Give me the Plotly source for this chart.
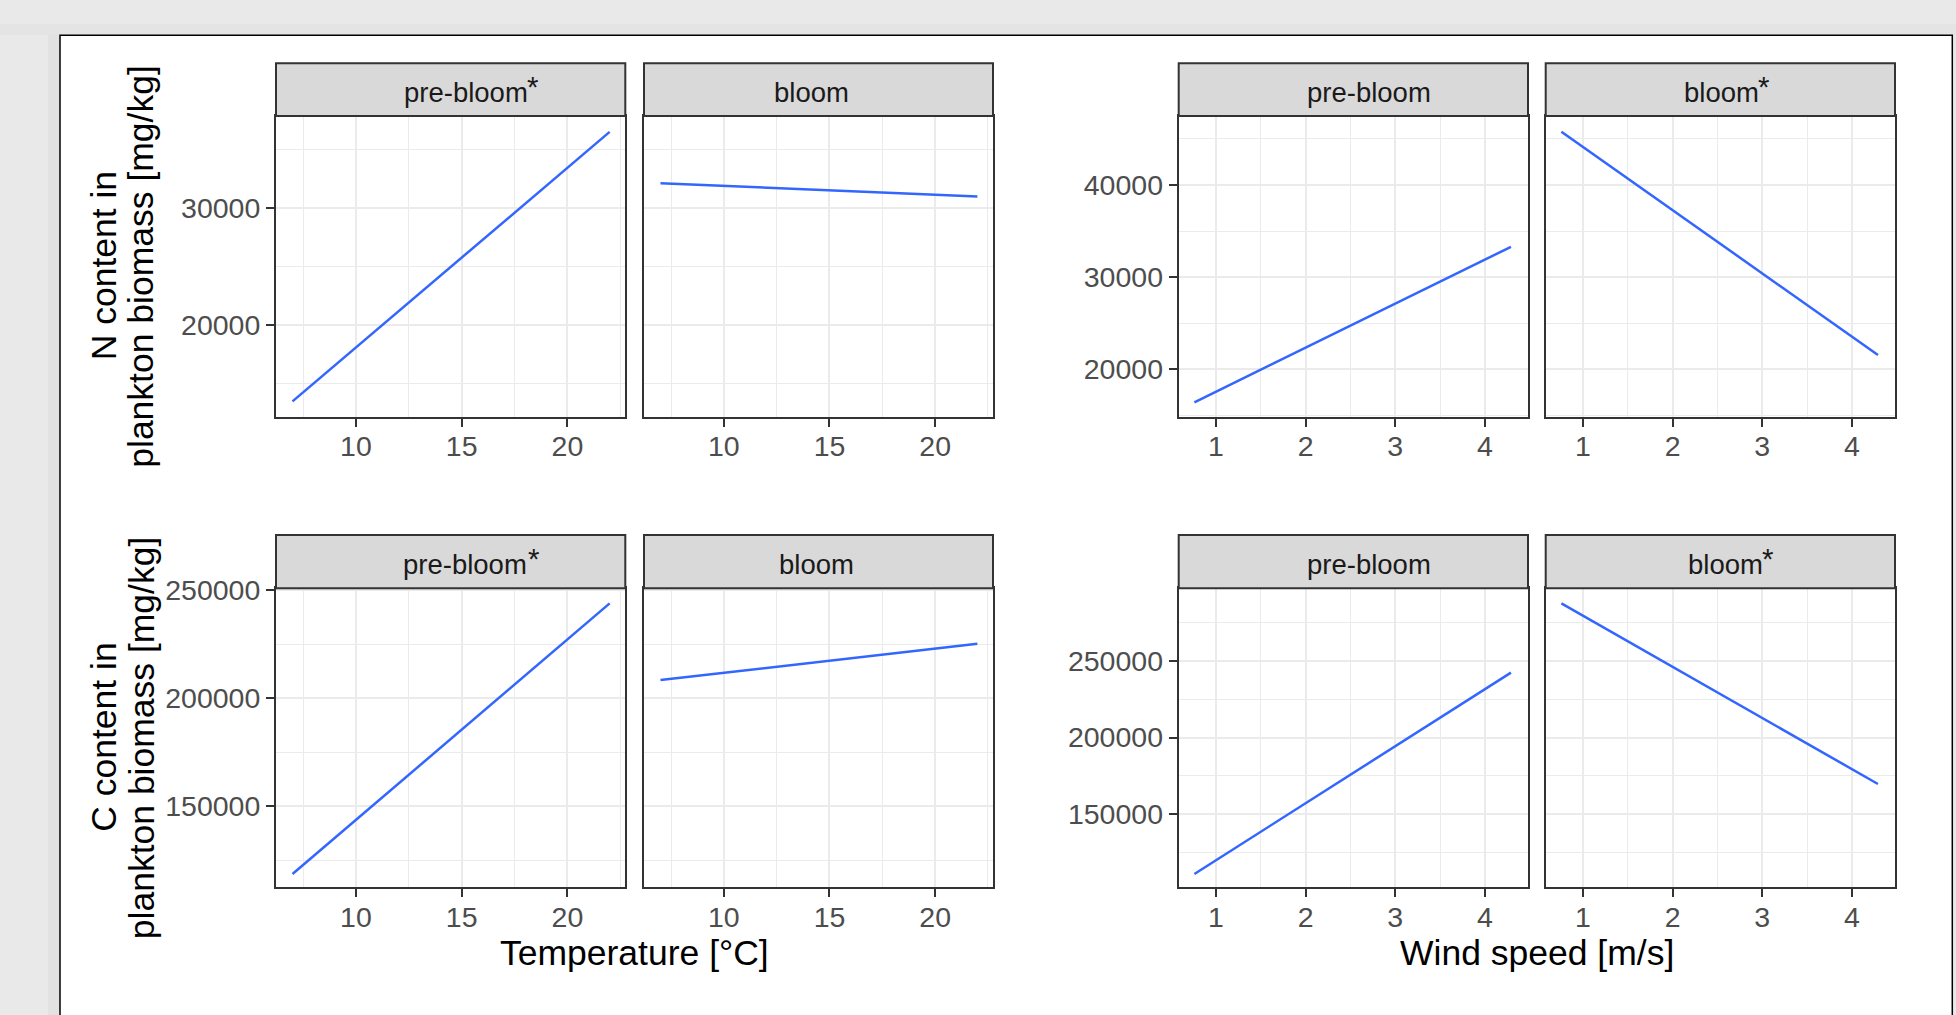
import plotly.graph_objects as go

W, H = 1956, 1015

# ---------------- data ----------------
temp_x = [7, 22]
wind_x = [0.76, 4.29]

n_temp_pre = [13450, 36500]
n_temp_bloom = [32110, 30970]
n_wind_pre = [16420, 33290]
n_wind_bloom = [45780, 21550]
c_temp_pre = [118500, 243800]
c_temp_bloom = [208300, 225100]
c_wind_pre = [110800, 242400]
c_wind_bloom = [287700, 169600]

strip_labels_top = ["pre-bloom", "bloom", "pre-bloom", "bloom"]
strip_labels_bottom = ["pre-bloom", "bloom", "pre-bloom", "bloom"]
strip_star_top = [True, False, False, True]
strip_star_bottom = [True, False, False, True]

temp_ticks = [10, 15, 20]
wind_ticks = [1, 2, 3, 4]
n_temp_ticks = [20000, 30000]
n_wind_ticks = [20000, 30000, 40000]
c_temp_ticks = [150000, 200000, 250000]
c_wind_ticks = [150000, 200000, 250000]

y_title_n = ["N content in", "plankton biomass [mg/kg]"]
y_title_c = ["C content in", "plankton biomass [mg/kg]"]
x_title_temp = "Temperature [°C]"
x_title_wind = "Wind speed [m/s]"

# ---------------- layout geometry (pixels) ----------------
def fx(px):
    return px / W

def fy(py):
    return 1 - py / H

cols_px = [(276, 625.3), (644, 993), (1178.7, 1528), (1545.7, 1895)]
rows_px = [(116, 416.7), (588.3, 887.3)]
strips_px = [(63.3, 116), (535, 588.3)]
strip_text_x = [[465.5, 811, 1369, 1721.6], [465.2, 816, 1369, 1725]]
strip_star_x = [[532.5, None, None, 1763.7], [533.8, None, None, 1767.5]]

FONT = "Liberation Sans, Arial, sans-serif"
LINE_COLOR = "#3366FF"
GRID = "#ebebeb"
DARK = "#333333"
TICK_SIZE = 28.5
STRIP_SIZE = 27.5
TITLE_SIZE = 35.5

x_ranges = [[6.22, 22.74], [6.22, 22.74], [0.585, 4.48], [0.585, 4.48]]
y_ranges = [[12140, 37860], [14860, 47480]], [[112360, 250790], [102090, 297520]]

series = [
    [(temp_x, n_temp_pre), (temp_x, n_temp_bloom), (wind_x, n_wind_pre), (wind_x, n_wind_bloom)],
    [(temp_x, c_temp_pre), (temp_x, c_temp_bloom), (wind_x, c_wind_pre), (wind_x, c_wind_bloom)],
]
x_tickvals = [temp_ticks, temp_ticks, wind_ticks, wind_ticks]
x_minor = [2.5, 2.5, 0.5, 0.5]
y_tickvals = [[n_temp_ticks, n_wind_ticks], [c_temp_ticks, c_wind_ticks]]
y_minor = [[5000, 5000], [25000, 25000]]

fig = go.Figure()
layout = dict(
    width=W, height=H, autosize=False,
    margin=dict(l=0, r=0, t=0, b=0, pad=0, autoexpand=False),
    paper_bgcolor="#e9e9e9",
    plot_bgcolor="white",
    showlegend=False,
    font=dict(family=FONT),
)
shapes = []
annotations = []

# page frame
shapes.append(dict(type="rect", xref="paper", yref="paper", x0=0, x1=1, y0=fy(24), y1=fy(35), fillcolor="#e4e4e4", line=dict(width=0), layer="below"))
shapes.append(dict(type="rect", xref="paper", yref="paper", x0=fx(48), x1=fx(60), y0=0, y1=fy(35), fillcolor="#e2e2e2", line=dict(width=0), layer="below"))
shapes.append(dict(type="rect", xref="paper", yref="paper", x0=fx(60), x1=fx(1952.3), y0=fy(1030), y1=fy(35.3),
                   fillcolor="white", line=dict(color="#000000", width=1.5), layer="below"))

for r in range(2):
    for c in range(4):
        n = r * 4 + c + 1
        xs, ys = series[r][c]
        xa = "x" if n == 1 else f"x{n}"
        ya = "y" if n == 1 else f"y{n}"
        fig.add_trace(go.Scatter(x=xs, y=ys, mode="lines", xaxis=xa, yaxis=ya,
                                 line=dict(color=LINE_COLOR, width=2.5), hoverinfo="skip"))
        x0, x1 = cols_px[c]
        y0, y1 = rows_px[r]
        grp = 0 if c < 2 else 1
        xkey = "xaxis" if n == 1 else f"xaxis{n}"
        ykey = "yaxis" if n == 1 else f"yaxis{n}"
        layout[xkey] = dict(
            domain=[fx(x0), fx(x1)], anchor=ya, range=x_ranges[c], automargin=False,
            tickmode="array", tickvals=x_tickvals[c],
            showgrid=True, gridcolor=GRID, gridwidth=2.2,
            minor=dict(tick0=0, dtick=x_minor[c], showgrid=True, gridcolor=GRID, gridwidth=1.1),
            showline=True, mirror=True, linecolor=DARK, linewidth=2,
            ticks="outside", ticklen=8, tickwidth=2, tickcolor=DARK,
            ticklabelstandoff=-5,
            tickfont=dict(family=FONT, size=TICK_SIZE, color="#4d4d4d"),
            zeroline=False, fixedrange=True,
        )
        show_y = (c % 2 == 0)
        layout[ykey] = dict(
            domain=[fy(y1), fy(y0)], anchor=xa, range=y_ranges[r][grp], automargin=False,
            tickmode="array", tickvals=y_tickvals[r][grp], tickformat="d",
            showgrid=True, gridcolor=GRID, gridwidth=2.2,
            minor=dict(tick0=0, dtick=y_minor[r][grp], showgrid=True, gridcolor=GRID, gridwidth=1.1),
            showline=True, mirror=True, linecolor=DARK, linewidth=2,
            ticks="outside" if show_y else "", ticklen=8, tickwidth=2, tickcolor=DARK,
            showticklabels=show_y,
            tickfont=dict(family=FONT, size=TICK_SIZE, color="#4d4d4d"),
            zeroline=False, fixedrange=True,
        )
        # strip
        s0, s1 = strips_px[r]
        sc = (s0 + s1) / 2
        shapes.append(dict(type="rect", xref="paper", yref="paper", x0=fx(x0), x1=fx(x1), y0=fy(s1), y1=fy(s0),
                           fillcolor="#d9d9d9", line=dict(color=DARK, width=2)))
        labels = strip_labels_top if r == 0 else strip_labels_bottom
        stars = strip_star_top if r == 0 else strip_star_bottom
        annotations.append(dict(text=labels[c], xref="paper", yref="paper",
                                x=fx(strip_text_x[r][c]), y=fy(sc + 3),
                                xanchor="center", yanchor="middle", showarrow=False,
                                font=dict(family=FONT, size=STRIP_SIZE, color="#1a1a1a")))
        if stars[c]:
            annotations.append(dict(text="*", xref="paper", yref="paper",
                                    x=fx(strip_star_x[r][c]), y=fy(sc - 3),
                                    xanchor="center", yanchor="middle", showarrow=False,
                                    font=dict(family=FONT, size=STRIP_SIZE + 2, color="#1a1a1a")))

# y titles
for r, lines in enumerate([y_title_n, y_title_c]):
    yc = (rows_px[r][0] + rows_px[r][1]) / 2
    for txt, xc in zip(lines, [104, 141.4]):
        annotations.append(dict(text=txt, xref="paper", yref="paper", x=fx(xc), y=fy(yc),
                                xanchor="center", yanchor="middle", textangle=-90, showarrow=False,
                                font=dict(family=FONT, size=TITLE_SIZE, color="#000000")))

# x titles
for txt, (ca, cb) in [(x_title_temp, (cols_px[0][0], cols_px[1][1])), (x_title_wind, (cols_px[2][0], cols_px[3][1]))]:
    annotations.append(dict(text=txt, xref="paper", yref="paper", x=fx((ca + cb) / 2), y=fy(953),
                            xanchor="center", yanchor="middle", showarrow=False,
                            font=dict(family=FONT, size=TITLE_SIZE, color="#000000")))

layout["shapes"] = shapes
layout["annotations"] = annotations
fig.update_layout(**layout)
fig.write_html("out.html", config=dict(displayModeBar=False),
               post_script="document.body.style.margin='0';document.body.style.overflow='hidden';")
